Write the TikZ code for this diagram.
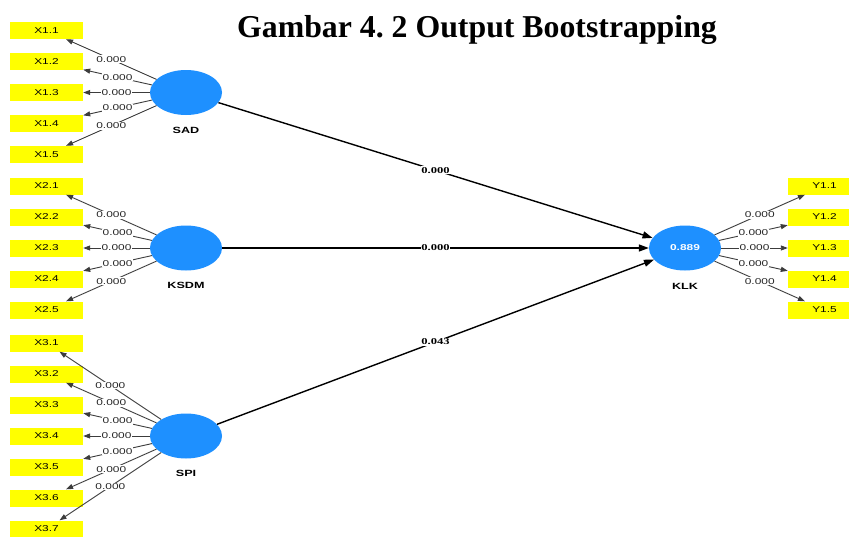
\documentclass[tikz,border=0pt]{standalone}
\usepackage{fontspec}
\setmainfont{Liberation Serif}
\newfontfamily\lab[FakeStretch=1.4]{Liberation Sans}
\newfontfamily\pathfont[FakeStretch=1.4]{Liberation Serif}
\usetikzlibrary{shapes.geometric,arrows.meta}
\definecolor{lvblue}{RGB}{30,144,255}
\definecolor{indyellow}{RGB}{255,255,0}
\definecolor{lgray}{RGB}{60,60,60}
\frenchspacing
\begin{document}
\begin{tikzpicture}[x=1pt,y=-1pt,
  lv/.style={ellipse,fill=lvblue,minimum width=72pt,minimum height=45pt,inner sep=0pt},
  indbox/.style={rectangle,fill=indyellow,minimum width=73pt,minimum height=17pt,inner sep=0pt,font=\lab\fontsize{8.5}{9}\selectfont},
  lvname/.style={font=\lab\bfseries\fontsize{9}{10}\selectfont},
  load/.style={-{Triangle[length=7pt,width=5pt]},draw=lgray,line width=0.9pt},
  loadlab/.style={fill=white,inner sep=0.8pt,font=\lab\fontsize{8.5}{10}\selectfont,text=black!85},
  struct/.style={-{Triangle[length=10pt,width=7pt]},draw=black,line width=1.4pt},
  structlab/.style={fill=white,inner sep=0.8pt,font=\pathfont\bfseries\fontsize{9}{10}\selectfont}]
\clip (0,0) rectangle (849,536);
\fill[white] (0,0) rectangle (849,536);
\node[font=\bfseries\fontsize{31.8}{36}\selectfont,anchor=base] (title) at (477,37) {Gambar 4. 2 Output Bootstrapping};
% latent variables
\node[lv] (SAD) at (186,92.5) {};
\node[lv] (KSDM) at (186,248) {};
\node[lv] (SPI) at (186,436) {};
\node[lv,font=\lab\bfseries\fontsize{8.5}{10}\selectfont,text=white] (KLK) at (685,248) {0.889};
\node[lvname] (nSAD) at (186,130) {SAD};
\node[lvname] (nKSDM) at (186,285) {KSDM};
\node[lvname] (nSPI) at (186,473) {SPI};
\node[lvname] (nKLK) at (685,286) {KLK};
% indicators
\foreach \i/\y in {1/30.5,2/61.5,3/92.5,4/123.5,5/154.5}
  \node[indbox] (xa\i) at (46.5,\y) {X1.\i};
\foreach \i/\y in {1/186,2/217,3/248,4/279,5/310}
  \node[indbox] (xb\i) at (46.5,\y) {X2.\i};
\foreach \i/\y in {1/343,2/374,3/405,4/436,5/467,6/498,7/529}
  \node[indbox] (xc\i) at (46.5,\y) {X3.\i};
\foreach \i/\y in {1/186,2/217,3/248,4/279,5/310}
  \node[indbox] (y\i) at (824.5,\y) {Y1.\i};
% loadings
\foreach \i in {1,...,5}
  \draw[load] (SAD) -- node[loadlab] {0.000} (xa\i);
\foreach \i in {1,...,5}
  \draw[load] (KSDM) -- node[loadlab] {0.000} (xb\i);
\foreach \i in {1,...,7}
  \draw[load] (SPI) -- node[loadlab] {0.000} (xc\i);
\foreach \i in {1,...,5}
  \draw[load] (KLK) -- node[loadlab] {0.000} (y\i);
% structural paths
\draw[struct] (SAD) -- node[structlab] {0.000} (KLK);
\draw[struct] (KSDM) -- node[structlab] {0.000} (KLK);
\draw[struct] (SPI) -- node[structlab] {0.043} (KLK);
\end{tikzpicture}
\end{document}
